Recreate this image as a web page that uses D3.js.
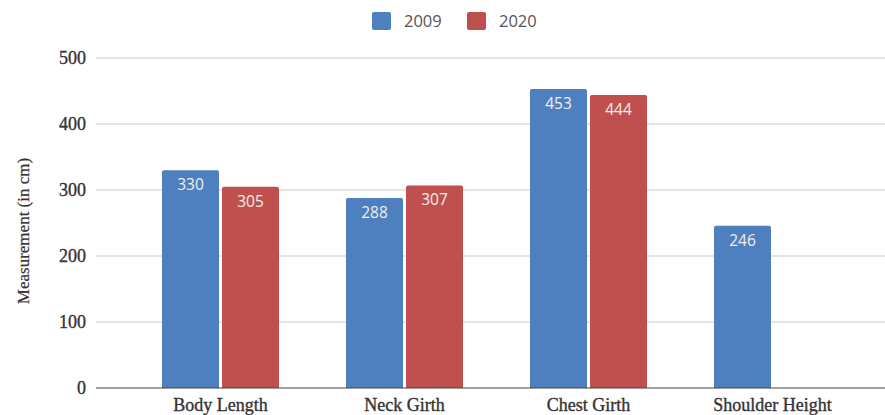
<!DOCTYPE html>
<html>
<head>
<meta charset="utf-8">
<script src="https://cdn.jsdelivr.net/npm/d3@7"></script>
<style>
  html, body { margin: 0; padding: 0; background: #fff; }
  svg { display: block; }
</style>
</head>
<body>
<svg id="chart" width="885" height="415"></svg>
<script>
// Body measurements, two survey years
const categories = ["Body Length", "Neck Girth", "Chest Girth", "Shoulder Height"];
const seriesNames = ["2009", "2020"];
const values2009 = [330, 288, 453, 246];
const values2020 = [305, 307, 444, null];
const yTicks = [0, 100, 200, 300, 400, 500];
const seriesColors = ["#4e7fbe", "#c0504d"];

const svg = d3.select("#chart");
const W = 885, H = 415;

const y = d3.scaleLinear().domain([0, 500]).range([388, 58]);
const x0 = d3.scaleBand().domain(categories).range([128.5, 864.5])
  .paddingInner(0.364).paddingOuter(0.182);
const x1 = d3.scaleBand().domain(seriesNames).range([0, x0.bandwidth()]).paddingInner(0.05);

const serifFont = "'Liberation Serif', 'Times New Roman', serif";
const sansFont = "'Open Sans', 'Noto Sans', sans-serif";

// horizontal gridlines
svg.append("g").selectAll("line").data(yTicks.filter(d => d > 0)).join("line")
  .attr("x1", 96).attr("x2", W)
  .attr("y1", d => y(d)).attr("y2", d => y(d))
  .attr("stroke", "#dcdcdc").attr("stroke-width", 1.5);

// y-axis tick labels
const yAxis = d3.axisLeft(y).tickValues(yTicks).tickSize(0).tickPadding(0);
const gy = svg.append("g").attr("transform", "translate(86,0)").call(yAxis);
gy.select(".domain").remove();
gy.selectAll("text")
  .attr("font-family", serifFont).attr("font-size", 18)
  .attr("fill", "#333").attr("stroke", "#333").attr("stroke-width", 0.35);

// y-axis title
svg.append("text")
  .attr("transform", "translate(28.5,231) rotate(-90)")
  .attr("text-anchor", "middle")
  .attr("font-family", serifFont).attr("font-size", 17)
  .attr("fill", "#333").attr("stroke", "#333").attr("stroke-width", 0.2)
  .text("Measurement (in cm)");

// bars
const rows = categories.map((c, i) => ({
  cat: c,
  vals: [
    { s: seriesNames[0], v: values2009[i] },
    { s: seriesNames[1], v: values2020[i] }
  ].filter(d => d.v != null)
}));

function topRounded(x, yTop, w, h, r) {
  return `M${x},${yTop + h}V${yTop + r}Q${x},${yTop} ${x + r},${yTop}` +
         `H${x + w - r}Q${x + w},${yTop} ${x + w},${yTop + r}V${yTop + h}Z`;
}

const groups = svg.append("g").selectAll("g").data(rows).join("g")
  .attr("transform", d => `translate(${x0(d.cat)},0)`);

groups.selectAll("path").data(d => d.vals).join("path")
  .attr("d", d => topRounded(x1(d.s), y(d.v), x1.bandwidth(), y(0) - y(d.v), 2))
  .attr("fill", d => seriesColors[seriesNames.indexOf(d.s)]);

groups.selectAll("text").data(d => d.vals).join("text")
  .attr("x", d => x1(d.s) + x1.bandwidth() / 2)
  .attr("y", d => y(d.v) + 20)
  .attr("text-anchor", "middle")
  .attr("font-family", sansFont).attr("font-size", 15.5)
  .attr("fill", "#f0f0f0")
  .text(d => d.v);

// baseline axis and category labels
svg.append("line")
  .attr("x1", 96).attr("x2", W).attr("y1", y(0)).attr("y2", y(0))
  .attr("stroke", "#444").attr("stroke-width", 1.2);

const xAxis = d3.axisBottom(x0).tickSize(0).tickPadding(0);
const gx = svg.append("g").attr("transform", `translate(0,${y(0) + 10})`).call(xAxis);
gx.select(".domain").remove();
gx.selectAll("text")
  .attr("font-family", serifFont).attr("font-size", 18)
  .attr("fill", "#333").attr("stroke", "#333").attr("stroke-width", 0.35);

// legend
const legend = svg.append("g");
const legendX = [372, 467];
seriesNames.forEach((s, i) => {
  legend.append("rect")
    .attr("x", legendX[i]).attr("y", 12).attr("width", 19).attr("height", 18)
    .attr("rx", 2).attr("fill", seriesColors[i]);
  legend.append("text")
    .attr("x", legendX[i] + 32).attr("y", 27)
    .attr("font-family", sansFont).attr("font-size", 16.5)
    .attr("fill", "#555")
    .text(s);
});
</script>
</body>
</html>
